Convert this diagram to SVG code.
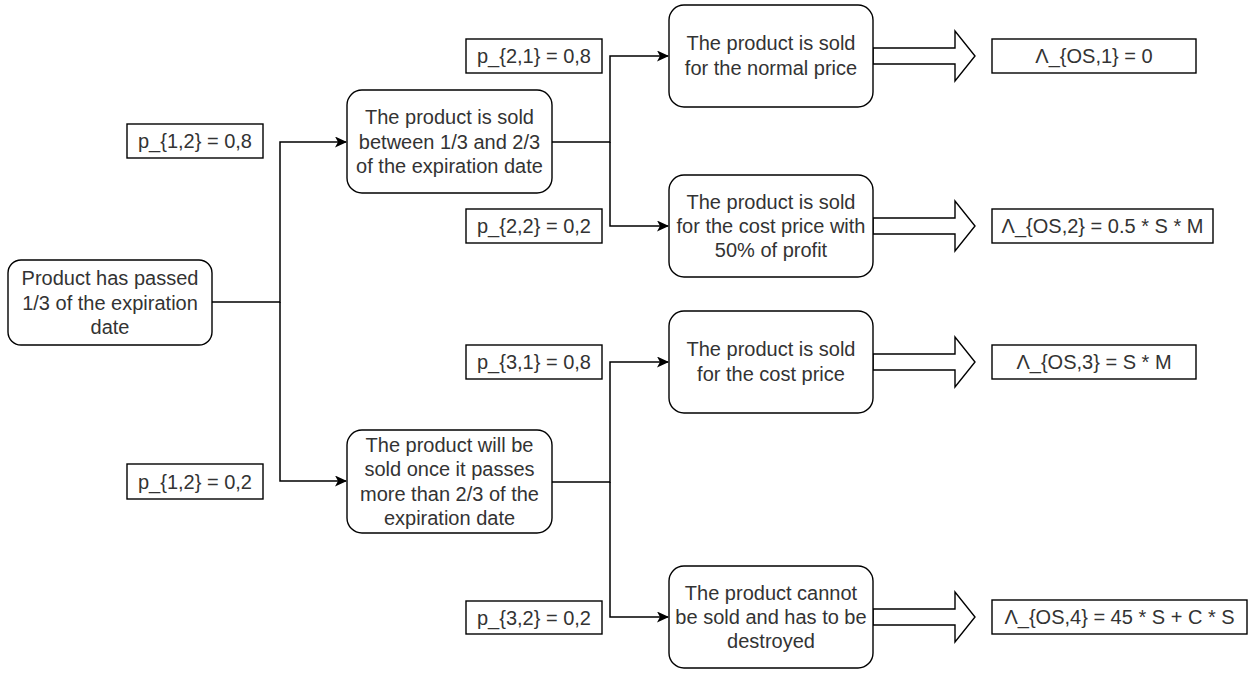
<svg xmlns="http://www.w3.org/2000/svg" width="1257" height="673" viewBox="0 0 1257 673">
<style>
.node{fill:#fff;stroke:#000;stroke-width:1.4}
.lbl{fill:#fff;stroke:#000;stroke-width:1.4}
.edge{fill:none;stroke:#000;stroke-width:1.5}
.big{fill:#fff;stroke:#000;stroke-width:1.4;stroke-linejoin:miter}
text{font-family:"Liberation Sans",Arial,sans-serif;font-size:20px;fill:#333;text-anchor:middle}
</style>
<defs>
<marker id="ah" markerWidth="14" markerHeight="12" refX="11" refY="5.5" orient="auto" markerUnits="userSpaceOnUse">
<path d="M0,0 L12,5.5 L0,11 L3,5.5 Z" fill="#000"/>
</marker>
</defs>
<rect width="1257" height="673" fill="#fff"/>
<g id="connectors">
<path class="edge" d="M212,302 H280 V142 H346" marker-end="url(#ah)"/>
<path class="edge" d="M280,302 V481 H346" marker-end="url(#ah)"/>
<path class="edge" d="M552,142 H610 V56 H668" marker-end="url(#ah)"/>
<path class="edge" d="M610,142 V226 H668" marker-end="url(#ah)"/>
<path class="edge" d="M552,482 H610 V362 H668" marker-end="url(#ah)"/>
<path class="edge" d="M610,482 V617 H668" marker-end="url(#ah)"/>
<polygon class="big" points="873,48 955,48 955,31 975,56 955,81 955,64 873,64"/>
<polygon class="big" points="873,218 955,218 955,201 975,226 955,251 955,234 873,234"/>
<polygon class="big" points="873,354 955,354 955,337 975,362 955,387 955,370 873,370"/>
<polygon class="big" points="873,609 955,609 955,592 975,617 955,642 955,625 873,625"/>
</g>
<g id="root">
<rect class="node" x="8" y="260" width="204" height="85" rx="13"/>
<text x="110" y="285">Product has passed</text>
<text x="110" y="309.5">1/3 of the expiration</text>
<text x="110" y="334">date</text>
</g>
<g id="p12a"><rect class="lbl" x="127" y="124" width="136" height="34"/><text x="195" y="148">p_{1,2} = 0,8</text></g>
<g id="p12b"><rect class="lbl" x="127" y="464" width="136" height="35"/><text x="195" y="488.5">p_{1,2} = 0,2</text></g>
<g id="midTop">
<rect class="node" x="347" y="90" width="205" height="103" rx="15"/>
<text x="449.5" y="124">The product is sold</text>
<text x="449.5" y="148.5">between 1/3 and 2/3</text>
<text x="449.5" y="173">of the expiration date</text>
</g>
<g id="midBottom">
<rect class="node" x="347" y="430" width="205" height="103" rx="15"/>
<text x="449.5" y="452">The product will be</text>
<text x="449.5" y="476">sold once it passes</text>
<text x="449.5" y="500.5">more than 2/3 of the</text>
<text x="449.5" y="525">expiration date</text>
</g>
<g id="p21"><rect class="lbl" x="466" y="39" width="136" height="34"/><text x="534" y="63">p_{2,1} = 0,8</text></g>
<g id="p22"><rect class="lbl" x="466" y="209" width="136" height="34"/><text x="534" y="233">p_{2,2} = 0,2</text></g>
<g id="p31"><rect class="lbl" x="466" y="345" width="136" height="34"/><text x="534" y="369">p_{3,1} = 0,8</text></g>
<g id="p32"><rect class="lbl" x="466" y="601" width="136" height="33"/><text x="534" y="624.5">p_{3,2} = 0,2</text></g>
<g id="out1">
<rect class="node" x="669" y="5" width="204" height="102" rx="15"/>
<text x="771" y="50">The product is sold</text>
<text x="771" y="75">for the normal price</text>
</g>
<g id="out2">
<rect class="node" x="669" y="175" width="204" height="102" rx="15"/>
<text x="771" y="209">The product is sold</text>
<text x="771" y="233">for the cost price with</text>
<text x="771" y="257">50% of profit</text>
</g>
<g id="out3">
<rect class="node" x="669" y="311" width="204" height="102" rx="15"/>
<text x="771" y="356">The product is sold</text>
<text x="771" y="381">for the cost price</text>
</g>
<g id="out4">
<rect class="node" x="669" y="566" width="204" height="102" rx="15"/>
<text x="771" y="600">The product cannot</text>
<text x="771" y="624">be sold and has to be</text>
<text x="771" y="648">destroyed</text>
</g>
<g id="res1"><rect class="lbl" x="992" y="39" width="204" height="34"/><text x="1094" y="63">Λ_{OS,1} = 0</text></g>
<g id="res2"><rect class="lbl" x="992" y="209" width="221" height="34"/><text x="1102.5" y="233">Λ_{OS,2} = 0.5 * S * M</text></g>
<g id="res3"><rect class="lbl" x="992" y="345" width="204" height="34"/><text x="1094" y="369">Λ_{OS,3} = S * M</text></g>
<g id="res4"><rect class="lbl" x="992" y="600" width="255" height="34"/><text x="1119.5" y="624">Λ_{OS,4} = 45 * S + C * S</text></g>
</svg>
